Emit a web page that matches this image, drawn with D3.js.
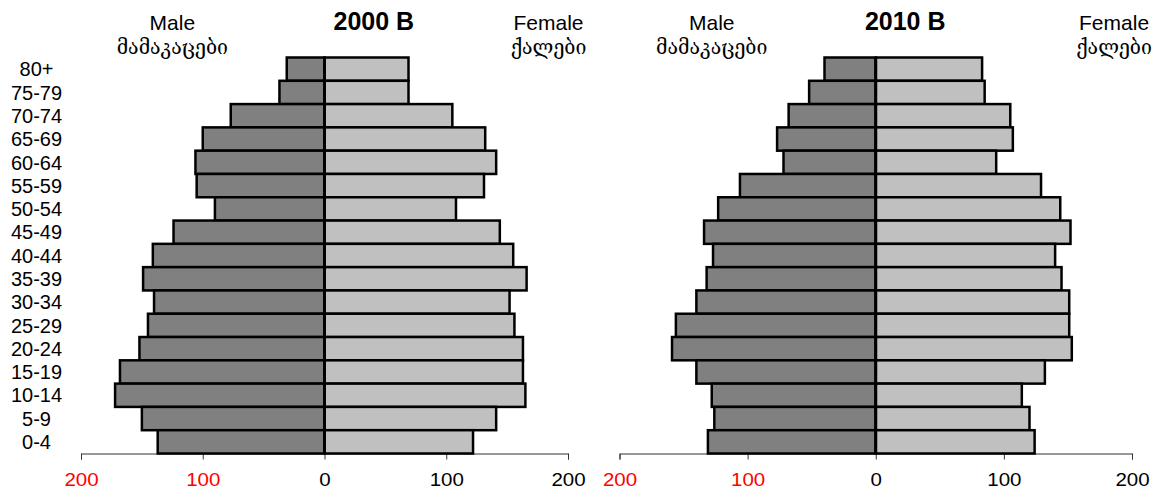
<!DOCTYPE html>
<html>
<head>
<meta charset="utf-8">
<script src="https://cdn.jsdelivr.net/npm/d3@7"></script>
<style>
  body { margin: 0; background: #fff; }
  svg text { font-family: "Liberation Sans", Arial, sans-serif; }
  svg text.geo { font-family: "DejaVu Serif", "DejaVu Sans", serif; }
</style>
</head>
<body>
<div id="chart"></div>
<script>
// Age groups, top to bottom
const ages = ["80+", "75-79", "70-74", "65-69", "60-64", "55-59", "50-54", "45-49", "40-44",
              "35-39", "30-34", "25-29", "20-24", "15-19", "10-14", "5-9", "0-4"];

// 2000 B
const male2000   = [31, 37, 77, 100, 106, 105, 90, 124, 141, 149, 140, 145, 152, 168, 172, 150, 137];
const female2000 = [69, 69, 105, 132, 141, 131, 108, 144, 155, 166, 152, 156, 163, 163, 165, 141, 122];

// 2010 B
const male2010   = [40, 52, 68, 77, 72, 106, 123, 134, 127, 132, 140, 156, 159, 140, 128, 126, 131];
const female2010 = [83, 85, 105, 107, 94, 129, 144, 152, 140, 145, 151, 151, 153, 132, 114, 120, 124];

const tickValues = [-200, -100, 0, 100, 200];

const svg = d3.select("#chart").append("svg").attr("width", 1159).attr("height", 495);

const plotTop = 57.5, plotBottom = 453.5;
const y = d3.scaleBand().domain(ages).range([plotTop, plotBottom]).padding(0);

function pyramid(title, male, female, x0, x1, pos, showAges) {
    const x = d3.scaleLinear().domain([-200, 200]).range([x0, x1]);
    const g = svg.append("g");

    // axis
    const axis = g.append("g")
        .attr("transform", `translate(0,${plotBottom})`)
        .call(d3.axisBottom(x).tickValues(tickValues).tickSize(6).tickSizeOuter(6)
              .tickFormat(d => Math.abs(d)));
    axis.select(".domain").attr("stroke", "#333");
    axis.selectAll(".tick line").attr("stroke", "#333");
    axis.selectAll(".tick text")
        .attr("dy", "1.24em")
        .attr("font-size", 19)
        .attr("font-family", "Liberation Sans, Arial, sans-serif")
        .attr("transform", "scale(1.08,1)")
        .attr("fill", d => d < 0 ? "#ff0000" : "#000");

    // male bars
    g.selectAll("rect.male")
        .data(ages)
        .enter()
        .append("rect")
        .attr("class", "male")
        .attr("x", (d, i) => x(-male[i]))
        .attr("y", d => y(d))
        .attr("width", (d, i) => x(0) - x(-male[i]))
        .attr("height", y.bandwidth())
        .attr("fill", "#808080")
        .attr("stroke", "#000")
        .attr("stroke-width", 2.5);

    // female bars
    g.selectAll("rect.female")
        .data(ages)
        .enter()
        .append("rect")
        .attr("class", "female")
        .attr("x", x(0))
        .attr("y", d => y(d))
        .attr("width", (d, i) => x(female[i]) - x(0))
        .attr("height", y.bandwidth())
        .attr("fill", "#c0c0c0")
        .attr("stroke", "#000")
        .attr("stroke-width", 2.5);

    g.append("line")
        .attr("x1", x(0)).attr("x2", x(0))
        .attr("y1", plotTop).attr("y2", plotBottom)
        .attr("stroke", "#000").attr("stroke-width", 3);

    // headings
    const maleX = x(-pos.male), femaleX = x(pos.female);
    g.append("text").attr("x", x(pos.title)).attr("y", 30)
        .attr("text-anchor", "middle").attr("font-size", 25).attr("font-weight", "bold")
        .text(title);
    g.append("text").attr("x", maleX).attr("y", 30).attr("text-anchor", "middle")
        .attr("font-size", 21).text("Male");
    g.append("text").attr("class", "geo").attr("x", maleX).attr("y", 54).attr("text-anchor", "middle")
        .attr("font-size", 19.5).text("მამაკაცები");
    g.append("text").attr("x", femaleX).attr("y", 30).attr("text-anchor", "middle")
        .attr("font-size", 21).text("Female");
    g.append("text").attr("class", "geo").attr("x", femaleX).attr("y", 54).attr("text-anchor", "middle")
        .attr("font-size", 19.5).text("ქალები");

    if (showAges) {
        g.selectAll("text.age")
            .data(ages)
            .enter()
            .append("text")
            .attr("class", "age")
            .attr("x", 36.5)
            .attr("y", d => y(d) + y.bandwidth() / 2)
            .attr("dy", "0.36em")
            .attr("text-anchor", "middle")
            .attr("font-size", 20)
            .text(d => d);
    }
}

pyramid("2000 B", male2000, female2000, 81, 568, { title: 40.5, male: 125, female: 184 }, true);
pyramid("2010 B", male2010, female2010, 619.5, 1132, { title: 23, male: 128, female: 186 }, false);
</script>
</body>
</html>
